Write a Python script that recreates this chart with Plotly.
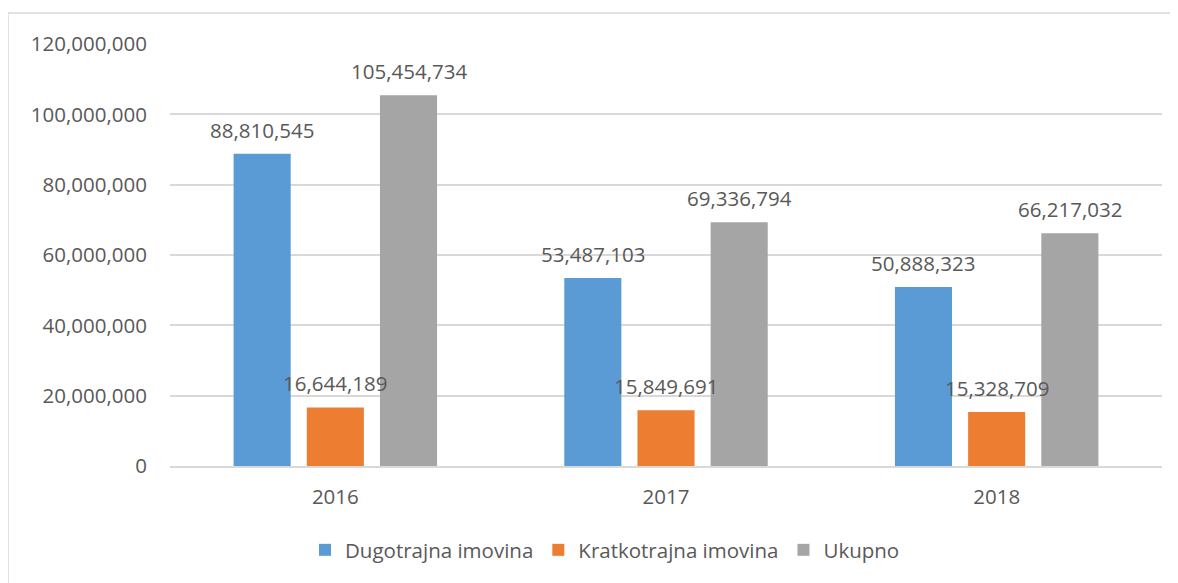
import plotly.graph_objects as go

years = ["2016", "2017", "2018"]
series_names = ["Dugotrajna imovina", "Kratkotrajna imovina", "Ukupno"]
dugotrajna = [88810545, 53487103, 50888323]
kratkotrajna = [16644189, 15849691, 15328709]
ukupno = [105454734, 69336794, 66217032]
series_values = [dugotrajna, kratkotrajna, ukupno]
colors = ["#5B9BD5", "#ED7D31", "#A5A5A5"]
y_ticks = [0, 20000000, 40000000, 60000000, 80000000, 100000000, 120000000]

# page has an 8px body margin, so the figure is drawn 8px right/down
W, H = 1170, 575
ML, MR, MT, MB = 162, 16, 36, 117
BARGAP = 0.336
BARGROUPGAP = 0.22
FONT = "Open Sans"
TXT = "#595959"

fig = go.Figure()
for name, vals, col in zip(series_names, series_values, colors):
    fig.add_trace(go.Bar(x=years, y=vals, name=name,
                         marker=dict(color=col, line=dict(width=0))))

plot_w = W - ML - MR
plot_h = H - MT - MB
slot = plot_w / len(years) * (1 - BARGAP) / len(series_names)
annotations = []
for i, vals in enumerate(series_values):
    for j, v in enumerate(vals):
        # category axis: annotation x given as category index
        annotations.append(dict(
            x=j, y=v, xref="x", yref="y", text=f"{v:,}", showarrow=False,
            xshift=(i - 1) * slot, yshift=24, yanchor="middle",
            font=dict(family=FONT, size=20.5, color=TXT)))

fig.update_layout(
    width=W, height=H,
    margin=dict(l=ML, r=MR, t=MT, b=MB, autoexpand=False),
    paper_bgcolor="white", plot_bgcolor="white",
    barmode="group", bargap=BARGAP, bargroupgap=BARGROUPGAP,
    font=dict(family=FONT, size=20.5, color=TXT),
    showlegend=True,
    legend=dict(orientation="h", x=(597 - ML) / plot_w, xanchor="center",
                y=(458 - 542) / plot_h, yanchor="middle",
                font=dict(family=FONT, size=20.5, color=TXT),
                bgcolor="rgba(0,0,0,0)"),
    annotations=annotations,
    shapes=[dict(type="rect", xref="paper", yref="paper",
                 x0=(0 - ML) / plot_w, x1=1.05,
                 y0=-0.4, y1=1 + (MT - 5) / plot_h,
                 line=dict(color="#D9D9D9", width=1.5),
                 fillcolor="rgba(0,0,0,0)", layer="below")],
)
fig.update_xaxes(type="category", range=[-0.5, len(years) - 0.5],
                 showgrid=False, showline=True,
                 linecolor="#D9D9D9", linewidth=1.5,
                 ticks="outside", ticklen=12, tickcolor="rgba(0,0,0,0)",
                 tickfont=dict(family=FONT, size=20.5, color=TXT))
fig.update_yaxes(range=[0, 120000000], tickvals=y_ticks, tickformat=",d",
                 showgrid=True, gridcolor="#D9D9D9", gridwidth=1.5,
                 showline=False, zeroline=False,
                 ticks="outside", ticklen=18, tickcolor="rgba(0,0,0,0)",
                 tickfont=dict(family=FONT, size=20.5, color=TXT))

fig.write_html("out.html")
